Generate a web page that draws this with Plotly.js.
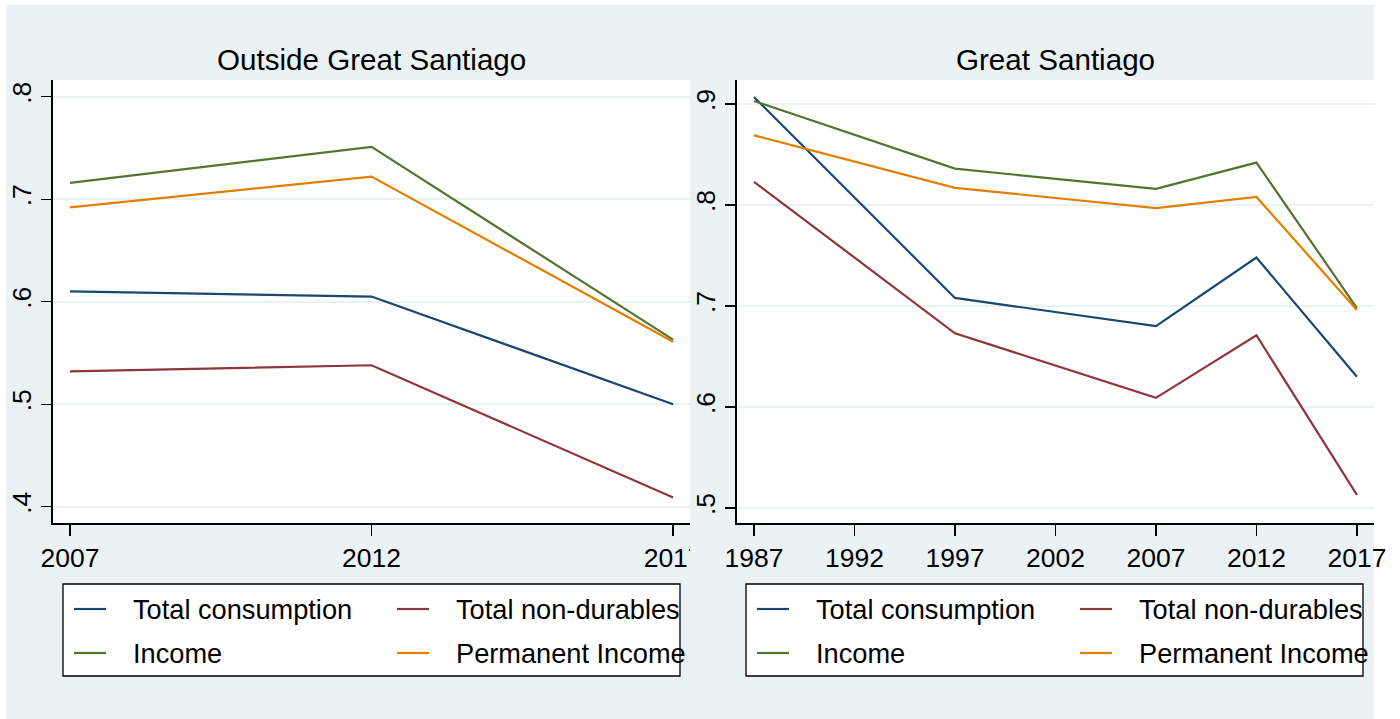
<!DOCTYPE html>
<html>
<head>
<meta charset="utf-8">
<script src="https://cdn.plot.ly/plotly-3.0.1.min.js"></script>
<style>
  html, body { margin: 0; padding: 0; background: #ffffff; }
  #chart { width: 1400px; height: 719px; }
</style>
</head>
<body>
<div id="chart"></div>
<script>
// Series shared by both panels
const seriesNames = ['Total consumption', 'Total non-durables', 'Income', 'Permanent Income'];
const seriesColors = ['#1a476f', '#90353b', '#55752f', '#e37e00'];

// Outside Great Santiago
const outsideTitle = 'Outside Great Santiago';
const outsideYears = [2007, 2012, 2017];
const outsideConsumption = [0.610, 0.605, 0.500];
const outsideNonDurables = [0.532, 0.538, 0.409];
const outsideIncome = [0.716, 0.751, 0.563];
const outsidePermIncome = [0.692, 0.722, 0.561];
const outsideYTicks = [0.4, 0.5, 0.6, 0.7, 0.8];
const outsideYLabels = ['.4', '.5', '.6', '.7', '.8'];
const outsideXTicks = [2007, 2012, 2017];

// Great Santiago
const santiagoTitle = 'Great Santiago';
const santiagoYears = [1987, 1997, 2007, 2012, 2017];
const santiagoConsumption = [0.907, 0.708, 0.680, 0.748, 0.630];
const santiagoNonDurables = [0.823, 0.673, 0.609, 0.671, 0.513];
const santiagoIncome = [0.903, 0.836, 0.816, 0.842, 0.698];
const santiagoPermIncome = [0.869, 0.817, 0.797, 0.808, 0.696];
const santiagoYTicks = [0.5, 0.6, 0.7, 0.8, 0.9];
const santiagoYLabels = ['.5', '.6', '.7', '.8', '.9'];
const santiagoXTicks = [1987, 1992, 1997, 2002, 2007, 2012, 2017];

// ---- page geometry (pixels) ----
const W = 1400, H = 719;
const BG = '#eaf2f3';
const FONT = 'Liberation Sans, Arial, Helvetica, sans-serif';
const px = v => v / W;
const py = v => 1 - v / H;

const plotTop = 80, plotBottom = 523.3;
const panels = [
  { left: 52.5, right: 690, legendLeft: 63, legendRight: 680 },
  { left: 736.7, right: 1374, legendLeft: 746, legendRight: 1363 }
];

const outsideSeries = [outsideConsumption, outsideNonDurables, outsideIncome, outsidePermIncome];
const santiagoSeries = [santiagoConsumption, santiagoNonDurables, santiagoIncome, santiagoPermIncome];

const traces = [];
outsideSeries.forEach((vals, i) => traces.push({
  type: 'scatter', mode: 'lines', x: outsideYears, y: vals, name: seriesNames[i],
  line: { color: seriesColors[i], width: 2.2 }, xaxis: 'x', yaxis: 'y', showlegend: false, hoverinfo: 'x+y+name'
}));
santiagoSeries.forEach((vals, i) => traces.push({
  type: 'scatter', mode: 'lines', x: santiagoYears, y: vals, name: seriesNames[i],
  line: { color: seriesColors[i], width: 2.2 }, xaxis: 'x2', yaxis: 'y2', showlegend: false, hoverinfo: 'x+y+name'
}));

function xAxis(p, range, ticks) {
  return {
    domain: [px(p.left), px(p.right)], range: range,
    tickmode: 'array', tickvals: ticks, ticktext: ticks.map(String),
    ticks: 'outside', ticklen: 11, tickwidth: 1.3, tickcolor: '#000',
    showline: true, linecolor: '#000', linewidth: 1.3,
    showgrid: false, zeroline: false,
    tickfont: { family: FONT, size: 26.5, color: '#000' },
    fixedrange: true
  };
}
function yAxis(anchor, range, ticks, labels) {
  return {
    domain: [py(plotBottom), py(plotTop)], range: range, anchor: anchor,
    tickmode: 'array', tickvals: ticks, ticktext: labels, tickangle: -90,
    ticks: 'outside', ticklen: 10, tickwidth: 1.3, tickcolor: '#000',
    showline: true, linecolor: '#000', linewidth: 1.3,
    showgrid: true, gridcolor: BG, gridwidth: 2, zeroline: false,
    tickfont: { family: FONT, size: 26.5, color: '#000' },
    fixedrange: true
  };
}

const shapes = [
  // graph region background
  { type: 'rect', xref: 'paper', yref: 'paper', x0: px(6), x1: px(1374), y0: 0, y1: py(5),
    fillcolor: BG, line: { width: 0 }, layer: 'below' },
  // plot regions
  { type: 'rect', xref: 'paper', yref: 'paper', x0: px(panels[0].left), x1: px(panels[0].right),
    y0: py(plotBottom), y1: py(plotTop), fillcolor: '#ffffff', line: { width: 0 }, layer: 'below' },
  { type: 'rect', xref: 'paper', yref: 'paper', x0: px(panels[1].left), x1: px(panels[1].right),
    y0: py(plotBottom), y1: py(plotTop), fillcolor: '#ffffff', line: { width: 0 }, layer: 'below' },
  // right panel region starts here and covers the overflow of the left panel's last x label
  { type: 'rect', xref: 'paper', yref: 'paper', x0: px(690), x1: px(721), y0: py(585), y1: py(530),
    fillcolor: BG, line: { width: 0 }, layer: 'above' }
];

const annotations = [];
[outsideTitle, santiagoTitle].forEach((t, k) => {
  const p = panels[k];
  annotations.push({
    xref: 'paper', yref: 'paper', x: px((p.left + p.right) / 2), y: py(59),
    xanchor: 'center', yanchor: 'middle', showarrow: false, text: t,
    font: { family: FONT, size: 29.6, color: '#000' }
  });
});

// legend boxes: two columns, two rows
const legendTop = 584, legendBottom = 676;
const rowY = [609, 653];
const colOffsets = [0, 323];
panels.forEach(p => {
  shapes.push({ type: 'rect', xref: 'paper', yref: 'paper',
    x0: px(p.legendLeft), x1: px(p.legendRight), y0: py(legendBottom), y1: py(legendTop),
    fillcolor: '#ffffff', line: { color: '#000', width: 1.3 }, layer: 'above' });
  seriesNames.forEach((name, i) => {
    const row = Math.floor(i / 2), col = i % 2;
    const x0 = p.legendLeft + 11 + colOffsets[col];
    shapes.push({ type: 'line', xref: 'paper', yref: 'paper',
      x0: px(x0), x1: px(x0 + 32), y0: py(rowY[row]), y1: py(rowY[row]),
      line: { color: seriesColors[i], width: 2.2 }, layer: 'above' });
    annotations.push({ xref: 'paper', yref: 'paper', x: px(x0 + 57), y: py(rowY[row]),
      xanchor: 'left', yanchor: 'middle', showarrow: false, text: name,
      font: { family: FONT, size: 27.2, color: '#000' } });
  });
});

const layout = {
  width: W, height: H,
  margin: { l: 0, r: 0, t: 0, b: 0, pad: 0 },
  paper_bgcolor: '#ffffff', plot_bgcolor: '#ffffff',
  showlegend: false,
  xaxis: Object.assign(xAxis(panels[0], [2006.71, 2017.28], outsideXTicks), { anchor: 'y' }),
  yaxis: yAxis('x', [0.3838, 0.8163], outsideYTicks, outsideYLabels),
  xaxis2: Object.assign(xAxis(panels[1], [1986.14, 2017.85], santiagoXTicks), { anchor: 'y2' }),
  yaxis2: yAxis('x2', [0.4848, 0.9238], santiagoYTicks, santiagoYLabels),
  shapes: shapes,
  annotations: annotations
};

Plotly.newPlot('chart', traces, layout, { staticPlot: true, displayModeBar: false });
</script>
</body>
</html>
